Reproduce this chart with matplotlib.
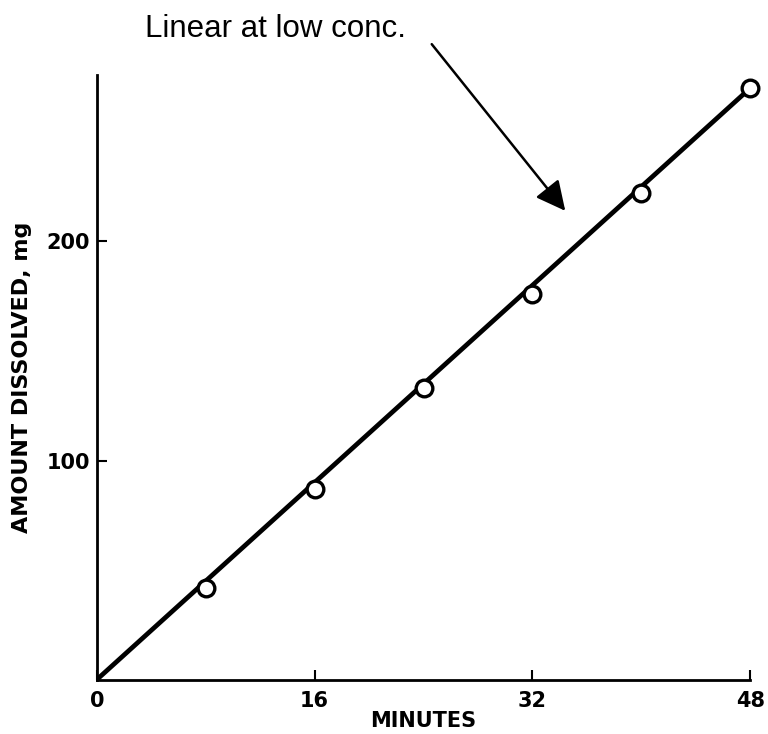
import matplotlib
matplotlib.use("Agg")
import matplotlib.pyplot as plt

# dissolution data: time (min) vs amount dissolved (mg)
minutes = [8, 16, 24, 32, 40, 48]
dissolved = [42, 87, 133, 176, 222, 270]

# straight-line fit through the origin
fit_x = [0, 48]
fit_y = [0, 270]

x_ticks = [0, 16, 32, 48]
y_ticks = [100, 200]

fig = plt.figure(figsize=(7.68, 7.34), dpi=100)
ax = fig.add_axes([0.126, 0.074, 0.851, 0.824])

ax.plot(fit_x, fit_y, color="black", linewidth=3.4, solid_capstyle="butt", zorder=2)
ax.plot(minutes, dissolved, linestyle="none", marker="o", markersize=12,
        markerfacecolor="white", markeredgecolor="black", markeredgewidth=2.4,
        clip_on=False, zorder=3)

ax.set_xlim(0, 48)
ax.set_ylim(0, 276)
ax.set_xticks(x_ticks)
ax.set_yticks(y_ticks)
ax.set_xticklabels([str(t) for t in x_ticks], fontsize=15, fontweight="bold")
ax.set_yticklabels([str(t) for t in y_ticks], fontsize=15, fontweight="bold")
ax.tick_params(direction="in", length=7, width=1.5)
ax.tick_params(axis="y", pad=5)
ax.tick_params(axis="x", pad=8)

for side in ("top", "right"):
    ax.spines[side].set_visible(False)
for side in ("left", "bottom"):
    ax.spines[side].set_linewidth(2)

ax.set_xlabel("MINUTES", fontsize=15, fontweight="bold", labelpad=0)
ax.set_ylabel("AMOUNT DISSOLVED, mg", fontsize=16, fontweight="bold", labelpad=10)

# annotation with arrow pointing at the line
fig.text(0.189, 0.9496, "Linear at low conc.", fontsize=22.5,
         family="Liberation Sans", ha="left", va="baseline")
fig.patches.append(matplotlib.patches.FancyArrowPatch(
    (430 / 768, 1 - 42 / 734), (567 / 768, 1 - 213 / 734),
    transform=fig.transFigure, arrowstyle="-|>,head_length=0.9,head_width=0.45",
    mutation_scale=20, linewidth=1.8, color="black"))

fig.savefig("out.png", dpi=100)
